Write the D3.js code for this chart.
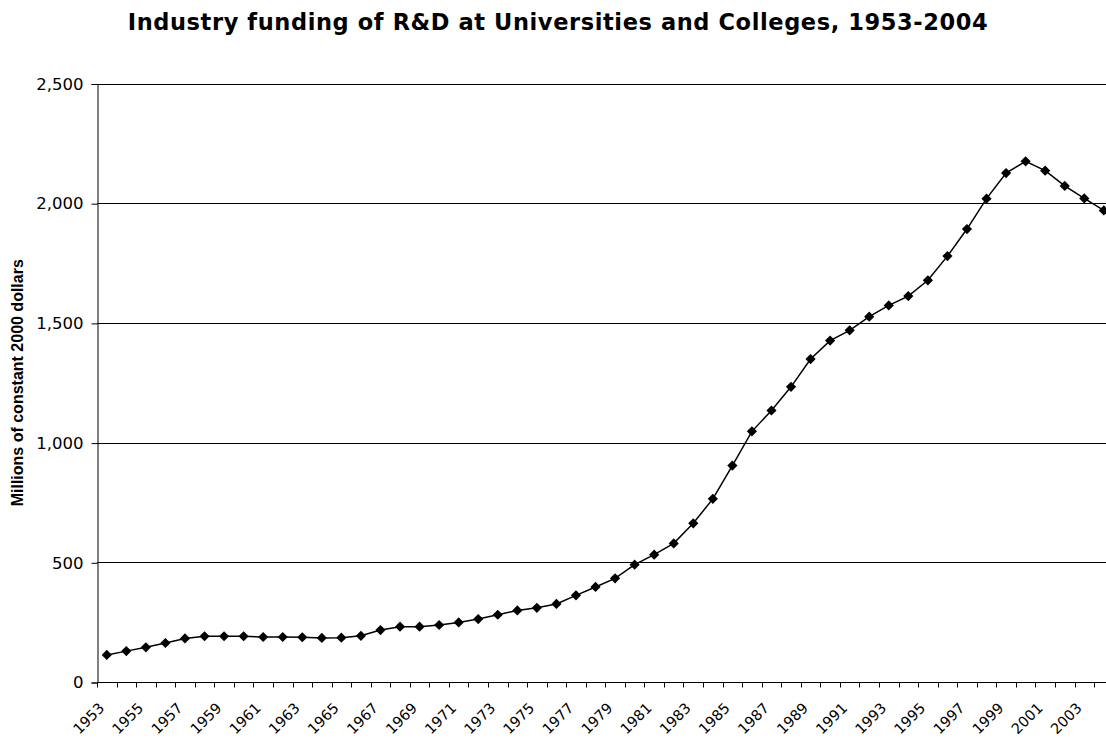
<!DOCTYPE html>
<html>
<head>
<meta charset="utf-8">
<script src="https://cdn.jsdelivr.net/npm/d3@7"></script>
<style>
    body { margin: 0; background: #fff; }
    svg { display: block; }
    .tick_label { font-family: "DejaVu Sans", Verdana, sans-serif; fill: #000; }
    .y_label { font-size: 16.5px; }
    .x_label { font-size: 14.5px; }
</style>
</head>
<body>
<div id="chart"></div>
<script>
// data
const years = d3.range(1953, 2005);
const funding = [
    113, 129, 145, 163, 182, 191, 191, 191, 188, 188,
    187, 184, 185, 193, 217, 231, 231, 238, 249, 263,
    281, 299, 310, 326, 362, 397, 433, 490, 532, 579,
    663, 765, 904, 1047, 1134, 1233, 1349, 1426, 1469, 1526,
    1573, 1612, 1678, 1779, 1892, 2019, 2126, 2175, 2136, 2072,
    2020, 1970
];
const y_ticks = [0, 500, 1000, 1500, 2000, 2500];
const x_labels = years.filter(d => (d - 1953) % 2 === 0);

// layout
const width = 1106;
const height = 742;
const plot_left = 97;
const step = 19.55;           // category width
const plot_right = plot_left + step * years.length; // plot runs past the right edge
const plot_top = 83.5;
const plot_bottom = 682;

var svg = d3.select("#chart").append("svg")
    .attr("width", width).attr("height", height);

var x = d3.scaleBand()
    .domain(years)
    .range([plot_left, plot_right]);

var y = d3.scaleLinear()
    .domain([0, 2500])
    .range([plot_bottom, plot_top]);

//网格线
svg.append("g").attr("id", "grid")
    .selectAll("line")
    .data(y_ticks.filter(d => d > 0))
    .enter()
    .append("line")
    .attr("x1", plot_left).attr("x2", plot_right)
    .attr("y1", d => Math.round(y(d)) + 0.5)
    .attr("y2", d => Math.round(y(d)) + 0.5)
    .attr("stroke", "#000").attr("stroke-width", 1);

// y axis
var y_axis = svg.append("g")
    .attr("transform", "translate(" + (plot_left + 0.5) + ",0.5)")
    .call(d3.axisLeft(y).tickValues(y_ticks).tickSize(6).tickPadding(8)
        .tickFormat(d3.format(",")));
y_axis.attr("font-size", null).attr("font-family", null);
y_axis.select(".domain").attr("stroke", "#000");
y_axis.selectAll("text").attr("class", "tick_label y_label");
y_axis.selectAll(".tick line").attr("stroke", "#000");

// x axis, ticks between categories
var x_axis = svg.append("g").attr("id", "x_axis");
x_axis.append("line")
    .attr("x1", plot_left).attr("x2", plot_right)
    .attr("y1", Math.round(plot_bottom) + 0.5).attr("y2", Math.round(plot_bottom) + 0.5)
    .attr("stroke", "#000");
x_axis.selectAll(".x_tick")
    .data(years)
    .enter()
    .append("line")
    .attr("x1", d => Math.round(x(d)) + 0.5)
    .attr("x2", d => Math.round(x(d)) + 0.5)
    .attr("y1", plot_bottom).attr("y2", plot_bottom + 5.5)
    .attr("stroke", "#000");
x_axis.selectAll(".x_label")
    .data(x_labels)
    .enter()
    .append("text")
    .attr("class", "tick_label x_label")
    .attr("text-anchor", "end")
    .attr("transform", d => "translate(" + (x(d) + x.bandwidth() / 2 - 1.5) + "," + (plot_bottom + 27) + ") rotate(-45)")
    .text(d => d);

// line + markers
var pts = years.map((d, i) => [x(d) + x.bandwidth() / 2, y(funding[i])]);

svg.append("path")
    .attr("d", d3.line()(pts))
    .attr("fill", "none")
    .attr("stroke", "#000")
    .attr("stroke-width", 1.5);

svg.append("g").attr("id", "markers")
    .selectAll("path")
    .data(pts)
    .enter()
    .append("path")
    .attr("d", d3.symbol(d3.symbolSquare, 52))
    .attr("transform", d => "translate(" + d[0] + "," + d[1] + ") rotate(45)")
    .attr("fill", "#000");

// titles
svg.append("text")
    .attr("x", 558).attr("y", 29.5)
    .attr("text-anchor", "middle")
    .attr("font-family", "'DejaVu Sans', Verdana, sans-serif")
    .attr("font-weight", "bold")
    .attr("font-size", 22.5)
    .attr("letter-spacing", 0.6)
    .text("Industry funding of R&D at Universities and Colleges, 1953-2004");

svg.append("text")
    .attr("transform", "translate(23," + ((plot_top + plot_bottom) / 2) + ") rotate(-90)")
    .attr("text-anchor", "middle")
    .attr("font-family", "'Liberation Sans', Arial, sans-serif")
    .attr("font-weight", "bold")
    .attr("font-size", 16)
    .text("Millions of constant 2000 dollars");
</script>
</body>
</html>
